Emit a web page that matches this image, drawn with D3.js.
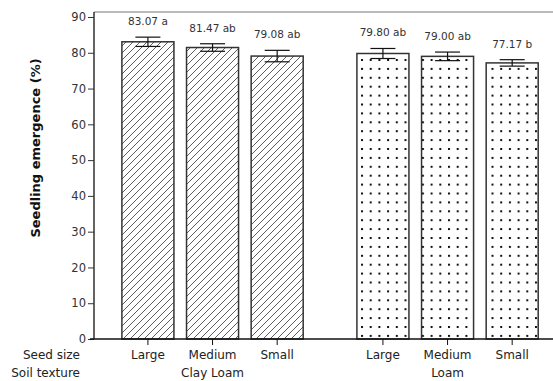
<!DOCTYPE html>
<html><head><meta charset="utf-8">
<script src="https://cdn.jsdelivr.net/npm/d3@7"></script>
<style>body{margin:0;background:#fff}svg{display:block}text{font-family:"DejaVu Sans",Verdana,sans-serif}</style>
</head><body>
<svg id="c" width="553" height="381"></svg>
<script>
const soils = ["Clay Loam", "Loam"];
const sizes = ["Large", "Medium", "Small"];
const means = [[83.07, 81.47, 79.08], [79.80, 79.00, 77.17]];
const errs = [[1.3, 1.05, 1.6], [1.4, 1.2, 0.9]];
const letters = [["a", "ab", "ab"], ["ab", "ab", "b"]];
const yTicks = [0, 10, 20, 30, 40, 50, 60, 70, 80, 90];

const svg = d3.select("#c");
const defs = svg.append("defs");
const hp = defs.append("pattern").attr("id", "hatch").attr("patternUnits", "userSpaceOnUse")
  .attr("width", 7).attr("height", 7);
hp.append("rect").attr("width", 7).attr("height", 7).attr("fill", "#fff");
hp.append("path").attr("d", "M0,7 L7,0 M-1,1 L1,-1 M6,8 L8,6").attr("stroke", "#333").attr("stroke-width", 0.8);
const dp = defs.append("pattern").attr("id", "dots").attr("patternUnits", "userSpaceOnUse")
  .attr("width", 8.7).attr("height", 8.9).attr("x", 361).attr("y", 59);
dp.append("rect").attr("width", 8.7).attr("height", 8.9).attr("fill", "#fff");
dp.append("rect").attr("x", 0).attr("y", 0).attr("width", 2).attr("height", 2).attr("fill", "#111");

const y = d3.scaleLinear().domain([0, 90]).range([339, 17]);
const xg = d3.scaleBand().domain(soils).range([115.6, 544.5]).paddingInner(0.175).paddingOuter(0);
const xs = d3.scaleBand().domain(sizes).range([0, xg.bandwidth()]).paddingInner(0.195).paddingOuter(0.0975);

// top frame line
svg.append("line").attr("x1", 94).attr("x2", 553).attr("y1", 12).attr("y2", 12).attr("stroke", "#777").attr("stroke-width", 1.2);

soils.forEach((s, gi) => {
  const g = svg.append("g");
  sizes.forEach((z, i) => {
    const x0 = xg(s) + xs(z), w = xs.bandwidth(), cx = x0 + w / 2;
    const m = means[gi][i], e = errs[gi][i];
    g.append("rect").attr("x", x0).attr("y", y(m)).attr("width", w).attr("height", y(0) - y(m))
      .attr("fill", gi === 0 ? "url(#hatch)" : "url(#dots)").attr("stroke", "#333").attr("stroke-width", 1.5);
    g.append("line").attr("x1", cx).attr("x2", cx).attr("y1", y(m + e)).attr("y2", y(m - e)).attr("stroke", "#111").attr("stroke-width", 1.2);
    [m + e, m - e].forEach(v => g.append("line").attr("x1", cx - 12.5).attr("x2", cx + 12.5)
      .attr("y1", y(v)).attr("y2", y(v)).attr("stroke", "#111").attr("stroke-width", 1.2));
    g.append("text").attr("x", cx).attr("y", y(m + e) - 12).attr("text-anchor", "middle")
      .attr("font-size", 10.5).attr("fill", "#333").text(m.toFixed(2) + " " + letters[gi][i]);
    svg.append("line").attr("x1", cx).attr("x2", cx).attr("y1", 339).attr("y2", 345).attr("stroke", "#111");
    svg.append("text").attr("x", cx).attr("y", 359).attr("text-anchor", "middle").attr("font-size", 12).attr("fill", "#222").text(z);
  });
  svg.append("text").attr("x", xg(s) + xg.bandwidth() / 2).attr("y", 377).attr("text-anchor", "middle")
    .attr("font-size", 12).attr("fill", "#222").text(s);
});

// axes
const ya = svg.append("g").attr("transform", "translate(94,0)")
  .call(d3.axisLeft(y).tickValues(yTicks).tickSize(6).tickPadding(2));
ya.select(".domain").attr("stroke", "#111").attr("stroke-width", 1.3).attr("d", "M0,12V339");
ya.selectAll(".tick line").attr("stroke", "#333");
ya.selectAll(".tick text").attr("font-size", 11.5).attr("fill", "#333").style("font-family", '"DejaVu Sans",sans-serif');
svg.append("line").attr("x1", 90).attr("x2", 553).attr("y1", 339).attr("y2", 339).attr("stroke", "#111").attr("stroke-width", 1.3);

svg.append("text").attr("transform", "translate(40,148) rotate(-90)").attr("text-anchor", "middle")
  .attr("font-size", 13).attr("font-weight", "bold").attr("fill", "#111").text("Seedling emergence (%)");
svg.append("text").attr("x", 80).attr("y", 359).attr("text-anchor", "end").attr("font-size", 12).attr("fill", "#222").text("Seed size");
svg.append("text").attr("x", 80).attr("y", 377).attr("text-anchor", "end").attr("font-size", 12).attr("fill", "#222").text("Soil texture");
</script>
</body></html>
